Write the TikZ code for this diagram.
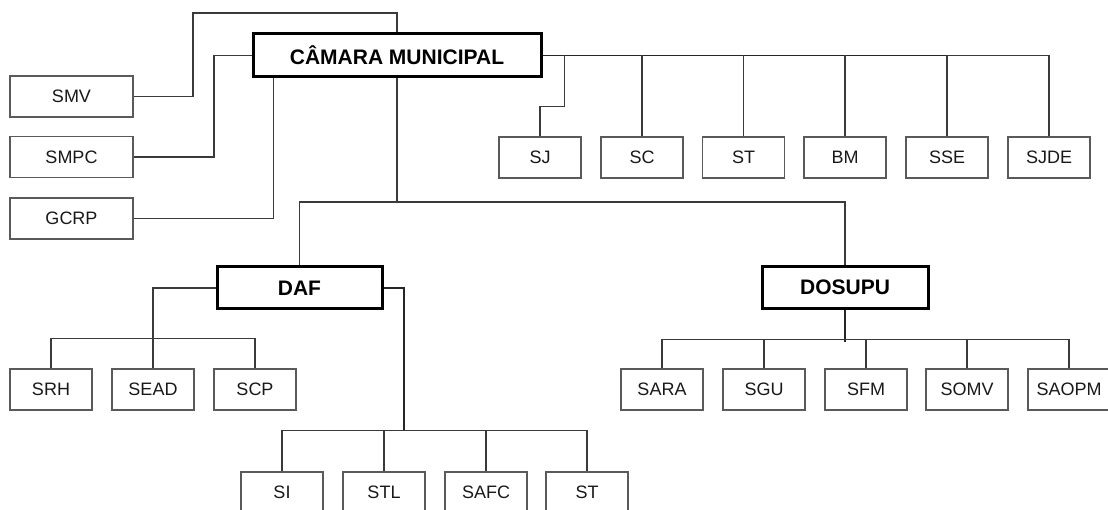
\documentclass[tikz,border=0pt]{standalone}
\usepackage{fontspec}
\setmainfont{Liberation Sans}
\usetikzlibrary{calc}
\definecolor{boxline}{HTML}{5A5A5A}
\definecolor{conline}{HTML}{3A3A3A}
\tikzset{
  unit/.style={draw=boxline, line width=1.1pt, rectangle, inner sep=0pt,
    minimum width=82pt, minimum height=41pt, text=black!90,
    font=\fontsize{18}{21}\selectfont},
  sideunit/.style={unit, minimum width=123pt},
  headbox/.style={draw=black, line width=3pt, rectangle, inner sep=0pt,
    minimum height=42pt, text=black,
    font=\fontsize{21}{24}\selectfont\bfseries},
  conn/.style={draw=conline, line width=1.1pt},
  connthick/.style={draw=black!85, line width=1.6pt}
}
\begin{document}
\begin{tikzpicture}[x=1pt,y=-1pt]
\clip (0,0) rectangle (1108,510);
\fill[white] (0,0) rectangle (1108,510);

% head nodes
\node[headbox, minimum width=288pt, minimum height=43pt] (cam) at (397,55.5) {CÂMARA MUNICIPAL};
\node[headbox, minimum width=165pt] (daf) at (299.5,288) {DAF};
\node[headbox, minimum width=166pt] (dos) at (845,287.5) {DOSUPU};

% side units
\node[sideunit] (smv) at (71.5,96.5) {SMV};
\node[sideunit] (smpc) at (71.5,157) {SMPC};
\node[sideunit] (gcrp) at (71.5,218.5) {GCRP};

% top row
\node[unit] (sj) at (540,157.5) {SJ};
\node[unit] (sc) at (642,157.5) {SC};
\node[unit] (st) at (743.5,157.5) {ST};
\node[unit] (bm) at (845,157.5) {BM};
\node[unit] (sse) at (947,157.5) {SSE};
\node[unit] (sjde) at (1049,157.5) {SJDE};

% DAF children
\node[unit] (srh) at (51,389.5) {SRH};
\node[unit] (sead) at (153,389.5) {SEAD};
\node[unit] (scp) at (255,389.5) {SCP};
\node[unit] (si) at (282,492.5) {SI};
\node[unit] (stl) at (384,492.5) {STL};
\node[unit] (safc) at (486,492.5) {SAFC};
\node[unit] (stb) at (587,492.5) {ST};

% DOSUPU children
\node[unit] (sara) at (662,389.5) {SARA};
\node[unit] (sgu) at (764,389.5) {SGU};
\node[unit] (sfm) at (866,389.5) {SFM};
\node[unit] (somv) at (967,389.5) {SOMV};
\node[unit] (saopm) at (1069,389.5) {SAOPM};

% helper coordinates
\coordinate (k1) at (193,13);
\coordinate (k2) at (214,0);
\coordinate (k3) at ($(cam.south west)+(22,0)$);
\coordinate (j1) at (397,202);
\coordinate (sjj) at ($(cam.east)+(22,0)$);
\coordinate (dr) at (404,431);

% side connectors
\draw[conn] (smv.east) -| (k1) -| (cam.north);
\draw[conn] (smpc.east) -- (smpc.east -| k2) |- (cam.west);
\draw[conn] (gcrp.east) -| (k3);

% main trunk
\draw[conn] (cam.south) -- (j1);
\draw[conn] (daf.north) |- (j1) -| (dos.north);

% top row connectors
\draw[connthick] (cam.east) -- (cam.east -| sse.north);
\draw[conn] (cam.east -| sse.north) -| (sjde.north);
\draw[conn] (sj.north) -- ++(0,-30) -| (sjj);
\draw[conn] (sc.north) -- (sc.north |- cam.east);
\draw[conn] (st.north) -- (st.north |- cam.east);
\draw[conn] (bm.north) -- (bm.north |- cam.east);
\draw[conn] (sse.north) -- (sse.north |- cam.east);

% DAF connectors
\draw[conn] (daf.west) -| (sead.north);
\draw[conn] (srh.north) -- ++(0,-30) -| (scp.north);
\draw[connthick] (daf.east) -| (dr);
\draw[conn] (si.north) -- ++(0,-41) -| (stb.north);
\draw[conn] (stl.north) -- ++(0,-41);
\draw[conn] (safc.north) -- ++(0,-41);

% DOSUPU connectors
\draw[connthick] (dos.south) -- ++(0,32);
\draw[conn] (sara.north) -- ++(0,-29) -| (saopm.north);
\draw[conn] (sgu.north) -- ++(0,-29);
\draw[conn] (sfm.north) -- ++(0,-29);
\draw[conn] (somv.north) -- ++(0,-29);
\end{tikzpicture}
\end{document}
